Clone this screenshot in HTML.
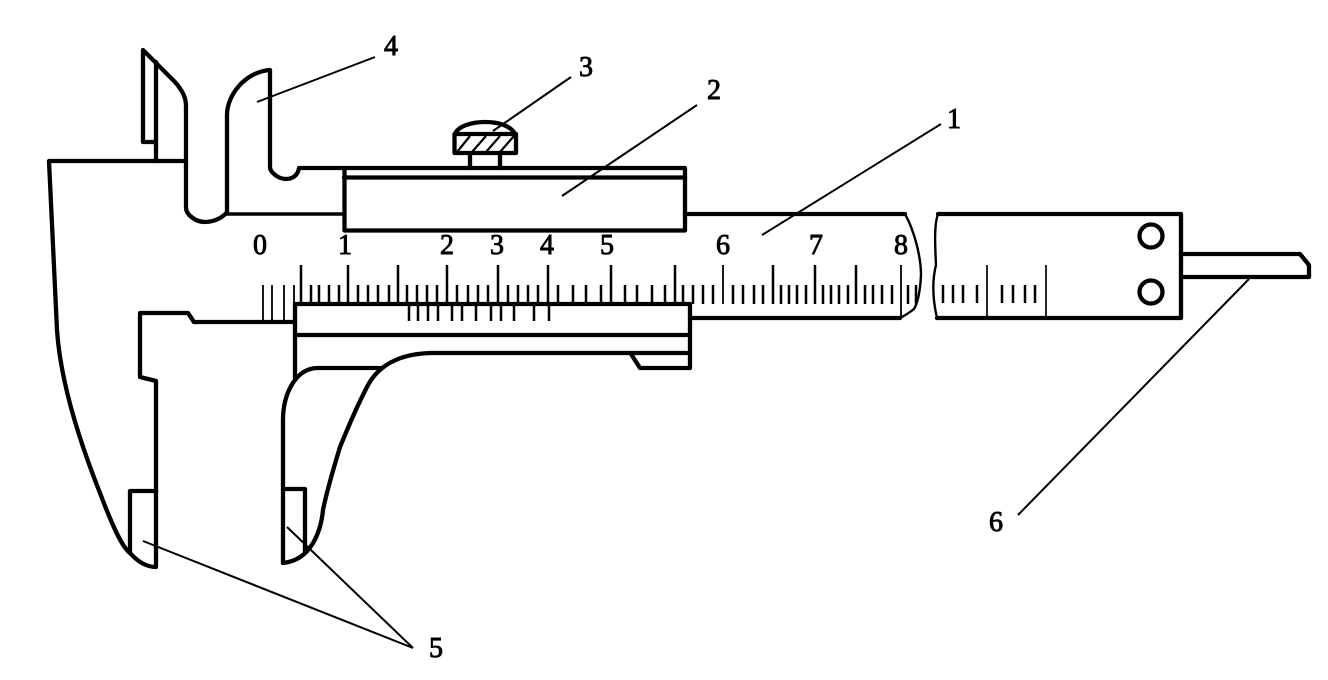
<!DOCTYPE html>
<html><head><meta charset="utf-8"><title>Vernier caliper</title>
<style>
html,body{margin:0;padding:0;background:#fff;width:1328px;height:680px;overflow:hidden}
svg{display:block}
text{font-family:"Liberation Serif",serif;font-size:28px;fill:#000;text-anchor:middle;stroke:#000;stroke-width:.9px}
</style></head><body>
<svg width="1328" height="680" viewBox="0 0 1328 680" xmlns="http://www.w3.org/2000/svg">
<rect width="1328" height="680" fill="#fff"/>
<g fill="none" stroke="#000" stroke-width="4.300" stroke-linejoin="round" stroke-linecap="round">
<!-- fixed body outline -->
<path d="M186,161 H49 L57,330 C60,375 75,430 100,493 C112,525 122,547 130,553 C138,562 147,567 156,567 V381 L140,377 V313 H188 L194,322 H295"/>
<path d="M130,553 V491 H156"/>
<!-- upper jaws -->
<path d="M156,161 V62 M156,142 H143 V50 L175,82 C182,90 186,97 186,106 V208 C186,214 195,222 205,222 C216,222 224,216 227,212 V115 C227,95 245,72 270,70 V167 C270,172 278,179 286,179 C293,179 298,175 299,168 H344"/>
<path d="M227,214 H344" stroke-width="3.600"/>
<!-- slider upper -->
<rect x="344.500" y="168" width="340.500" height="62.500"/>
<path d="M344,177.500 H685"/>
<!-- screw -->
<path d="M455,134 C458,126 472,122 485,122 C499,122 511,126 515,134 M470,153 V168 M500,153 V168"/>
<rect x="454.500" y="134" width="61.500" height="19"/>
<g stroke-width="2.200" stroke-linecap="butt">
<path d="M457,152 L470,136 M472,152 L486,136 M486,152 L500,136 M500,152 L514,136"/>
</g>
<!-- main scale -->
<path d="M685,214 H905 M690,318 H900"/>
<path d="M905,214 C915,232 921,258 921,275 C920,295 917,304 914,309 C909,313 904,316 900,318" stroke-width="2.400"/>
<path d="M938,214 H1181 V318 H937" />
<path d="M938,214 C934,225 935,245 936,265 C931,285 934,305 937,318" stroke-width="2.400"/>
<circle cx="1151" cy="236" r="11.500"/>
<circle cx="1151" cy="292" r="11.500"/>
<path d="M1181,254 H1300 L1309,265 V277 H1181"/>
<!-- sliding jaw -->
<path d="M295,304 H690 V368 H640 L631,354 M295,304 V378 M295,335 H690 M430,353 H690"/>
<path d="M283,563 V420 C283,395 295,368 318,368 H381"/>
<path d="M430,353 C400,354 378,365 367,387 C355,410 347,430 340,447 C333,470 327,490 323,510 C321,530 312,560 283,563"/>
<path d="M283,489 H305 V552"/>
</g>
<!-- ticks -->
<g stroke="#000" stroke-width="2.500" fill="none">
<path d="M301,265V304M348,265V304M398,265V304M447,265V304M498,265V304M548,265V304M611,265V304M675,265V304M773,265V304M815,265V304M856,265V304"/>
<path d="M311,285V304M319,285V304M329,285V304M339,285V304M358,285V304M368,285V304M378,285V304M389,285V304M407,285V304M417,285V304M427,285V304M437,285V304M457,285V304M468,285V304M478,285V304M488,285V304M508,285V304M518,285V304M528,285V304M538,285V304M558,285V304M573,285V304M586,285V304M601,285V304M625,285V304M637,285V304M652,285V304M665,285V304M683,285V304M693,285V304M703,285V304M713,285V304M733,285V304M743,285V304M754,285V304M763,285V304M781,285V304M789,285V304M797,285V304M806,285V304M823,285V304M831,285V304M839,285V304M848,285V304M865,285V304M873,285V304M882,285V304M892,285V304M908,285V304M916,285V304"/>
<path d="M901,265V318M723,265V304" stroke-width="1.800"/>
<path d="M943,285V303M953,285V303M963,285V303M977,285V303M1002,285V303M1013,285V303M1025,285V303M1035,285V303"/>
<path d="M987,265V318M1046,265V318" stroke-width="1.700"/>
<path d="M263,285V322M272,285V322M284,285V322M294,285V322" stroke-width="1.800"/>
<path d="M409,304V321M418,304V321M428,304V321M438,304V321M452,304V321M462,304V321M476,304V321M491,304V321M501,304V321M514,304V321M534,304V321M549,304V321"/>
</g>
<!-- leaders -->
<g stroke="#000" stroke-width="2" fill="none">
<path d="M375,57 L257,102"/>
<path d="M571,77 L493,131"/>
<path d="M697,105 L562,196"/>
<path d="M941,124 L762,235"/>
<path d="M1018,515 L1249,279"/>
<path d="M413,648 L143,541"/>
<path d="M413,648 L287,527"/>
</g>
<!-- scale digits -->
<text x="260" y="254">0</text>
<text x="345" y="254">1</text>
<text x="447" y="254">2</text>
<text x="497" y="254">3</text>
<text x="547" y="254">4</text>
<text x="607" y="254">5</text>
<text x="723" y="254">6</text>
<text x="816" y="254">7</text>
<text x="901" y="254">8</text>
<!-- callouts -->
<text x="391" y="55">4</text>
<text x="586" y="76">3</text>
<text x="714" y="99">2</text>
<text x="954" y="128">1</text>
<text x="996" y="531">6</text>
<text x="436" y="657">5</text>
</svg>
</body></html>
